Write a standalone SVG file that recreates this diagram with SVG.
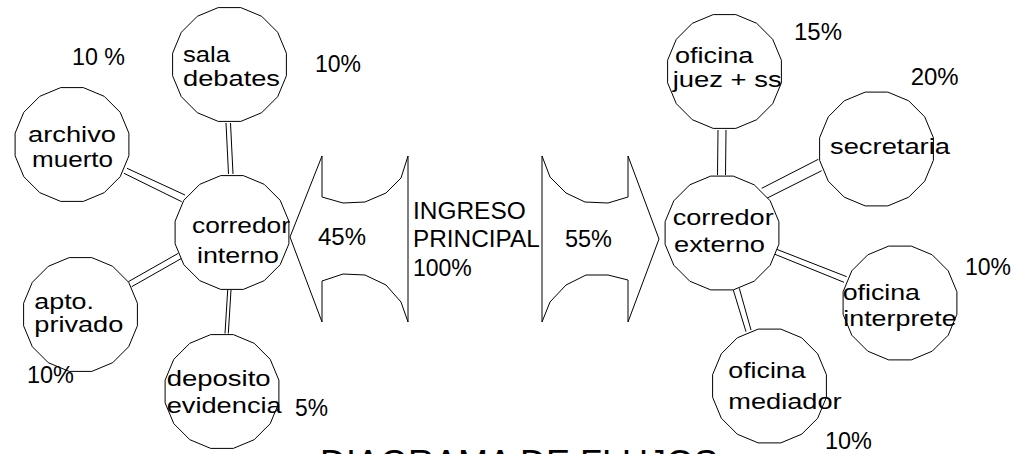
<svg xmlns="http://www.w3.org/2000/svg" xmlns:xlink="http://www.w3.org/1999/xlink" width="1016" height="454" viewBox="0 0 1016 454">
<style>
.t{font-family:"Liberation Sans",Arial,sans-serif;font-size:22.5px;fill:#000}
.p{font-family:"Liberation Sans",Arial,sans-serif;font-size:23px;fill:#000}
.c{fill:#fff;stroke:#000;stroke-width:1}
.a{fill:none;stroke:#000;stroke-width:1}
.l{stroke:#000;stroke-width:1;fill:none}
</style>
<defs>
<polygon id="c" class="c" points="56.9,11.3 48.2,32.2 32.2,48.2 11.3,56.9 -11.3,56.9 -32.2,48.2 -48.2,32.2 -56.9,11.3 -56.9,-11.3 -48.2,-32.2 -32.2,-48.2 -11.3,-56.9 11.3,-56.9 32.2,-48.2 48.2,-32.2 56.9,-11.3"/>
</defs>
<rect width="1016" height="454" fill="#fff"/>
<g id="connectors">
<line class="l" x1="226" y1="123" x2="228.5" y2="174"/><line class="l" x1="230.5" y1="123" x2="233" y2="174"/>
<line class="l" x1="127" y1="168.3" x2="185" y2="195"/><line class="l" x1="124" y1="173.3" x2="181.7" y2="201.7"/>
<line class="l" x1="128.3" y1="281.7" x2="178.3" y2="253.3"/><line class="l" x1="131.7" y1="286.7" x2="181.7" y2="258.3"/>
<line class="l" x1="227.7" y1="290" x2="225" y2="333.5"/><line class="l" x1="231" y1="290" x2="228.3" y2="333.5"/>
<line class="l" x1="718" y1="130" x2="717.5" y2="175"/><line class="l" x1="726" y1="130" x2="725.5" y2="175"/>
<line class="l" x1="761.7" y1="188.3" x2="818.3" y2="159.3"/><line class="l" x1="766.7" y1="198.3" x2="821.7" y2="170.7"/>
<line class="l" x1="776.7" y1="249.3" x2="846.7" y2="276.7"/><line class="l" x1="775" y1="254.3" x2="844" y2="282.3"/>
<line class="l" x1="733.3" y1="290" x2="746" y2="331.7"/><line class="l" x1="739.3" y1="288.3" x2="751" y2="330"/>
</g>
<g id="sala-debates"><use xlink:href="#c" x="229.5" y="64.5"/>
<text class="t" x="183" y="61.5" textLength="47" lengthAdjust="spacingAndGlyphs">sala</text>
<text class="t" x="183" y="85.5" textLength="97" lengthAdjust="spacingAndGlyphs">debates</text></g>
<g id="archivo-muerto"><use xlink:href="#c" x="72" y="144.5"/>
<text class="t" x="28" y="142" textLength="88" lengthAdjust="spacingAndGlyphs">archivo</text>
<text class="t" x="32" y="166.7" textLength="81" lengthAdjust="spacingAndGlyphs">muerto</text></g>
<g id="corredor-interno"><use xlink:href="#c" x="232" y="232.5"/>
<text class="t" x="192" y="233" textLength="98" lengthAdjust="spacingAndGlyphs">corredor</text>
<text class="t" x="197" y="262.5" textLength="82" lengthAdjust="spacingAndGlyphs">interno</text></g>
<g id="apto-privado"><use xlink:href="#c" x="80.5" y="314.5"/>
<text class="t" x="34.3" y="309.3" textLength="59.7" lengthAdjust="spacingAndGlyphs">apto.</text>
<text class="t" x="34.3" y="331.7" textLength="89" lengthAdjust="spacingAndGlyphs">privado</text></g>
<g id="deposito-evidencia"><use xlink:href="#c" x="222" y="391.5"/>
<text class="t" x="166.7" y="385.7" textLength="104" lengthAdjust="spacingAndGlyphs">deposito</text>
<text class="t" x="166.7" y="413.3" textLength="115" lengthAdjust="spacingAndGlyphs">evidencia</text></g>
<g id="oficina-juez"><use xlink:href="#c" x="724.5" y="71.5"/>
<text class="t" x="675" y="63.3" textLength="78.3" lengthAdjust="spacingAndGlyphs">oficina</text>
<text class="t" x="672.7" y="87.3" textLength="109" lengthAdjust="spacingAndGlyphs">juez + ss</text></g>
<g id="secretaria"><use xlink:href="#c" x="876.5" y="149"/>
<text class="t" x="830" y="154" textLength="120" lengthAdjust="spacingAndGlyphs">secretaria</text></g>
<g id="corredor-externo"><use xlink:href="#c" x="722" y="233"/>
<text class="t" x="672.7" y="225" textLength="101" lengthAdjust="spacingAndGlyphs">corredor</text>
<text class="t" x="674" y="251.7" textLength="91" lengthAdjust="spacingAndGlyphs">externo</text></g>
<g id="oficina-interprete"><use xlink:href="#c" x="900" y="303"/>
<text class="t" x="842.7" y="300" textLength="77.3" lengthAdjust="spacingAndGlyphs">oficina</text>
<text class="t" x="843.3" y="326" textLength="113.3" lengthAdjust="spacingAndGlyphs">interprete</text></g>
<g id="oficina-mediador"><use xlink:href="#c" x="769.5" y="386"/>
<text class="t" x="728.3" y="378.3" textLength="77.3" lengthAdjust="spacingAndGlyphs">oficina</text>
<text class="t" x="728.3" y="409.3" textLength="113.3" lengthAdjust="spacingAndGlyphs">mediador</text></g>
<g id="flecha-izquierda"><polygon class="a" points="290,237 322,156 322,197 343,203 365,202 386,193 401,178 408,156 408,322 401,302 386,285 365,275 343,274 322,281 322,322"/>
<text class="p" x="318" y="245" textLength="48" lengthAdjust="spacingAndGlyphs">45%</text></g>
<g id="flecha-derecha"><polygon class="a" points="542,156 550,177 566,193 585,202 608,203 628,197 628,156 659,239 628,322 628,280 608,275 586,275 566,285 550,302 542,322"/>
<text class="p" x="565" y="247" textLength="47" lengthAdjust="spacingAndGlyphs">55%</text></g>
<g id="ingreso-principal">
<text class="p" x="413" y="219" font-size="24.5" textLength="112.7" lengthAdjust="spacingAndGlyphs">INGRESO</text>
<text class="p" x="413" y="247" font-size="24.5" textLength="126.7" lengthAdjust="spacingAndGlyphs">PRINCIPAL</text>
<text class="p" x="413" y="276" font-size="24.5">100%</text></g>
<g id="porcentajes">
<text class="p" x="72" y="65" textLength="53" lengthAdjust="spacingAndGlyphs">10 %</text>
<text class="p" x="315" y="72.3" textLength="46" lengthAdjust="spacingAndGlyphs">10%</text>
<text class="p" x="27" y="383" textLength="47" lengthAdjust="spacingAndGlyphs">10%</text>
<text class="p" x="295" y="416" textLength="33" lengthAdjust="spacingAndGlyphs">5%</text>
<text class="p" x="794" y="40" textLength="48" lengthAdjust="spacingAndGlyphs">15%</text>
<text class="p" x="910.7" y="85" textLength="48" lengthAdjust="spacingAndGlyphs">20%</text>
<text class="p" x="965" y="275" textLength="46" lengthAdjust="spacingAndGlyphs">10%</text>
<text class="p" x="825" y="449" textLength="47" lengthAdjust="spacingAndGlyphs">10%</text>
</g>
<text x="320" y="476" font-family="Liberation Sans, Arial, sans-serif" font-size="36" textLength="398" lengthAdjust="spacingAndGlyphs">DIAGRAMA DE FLUJOS</text>
</svg>
